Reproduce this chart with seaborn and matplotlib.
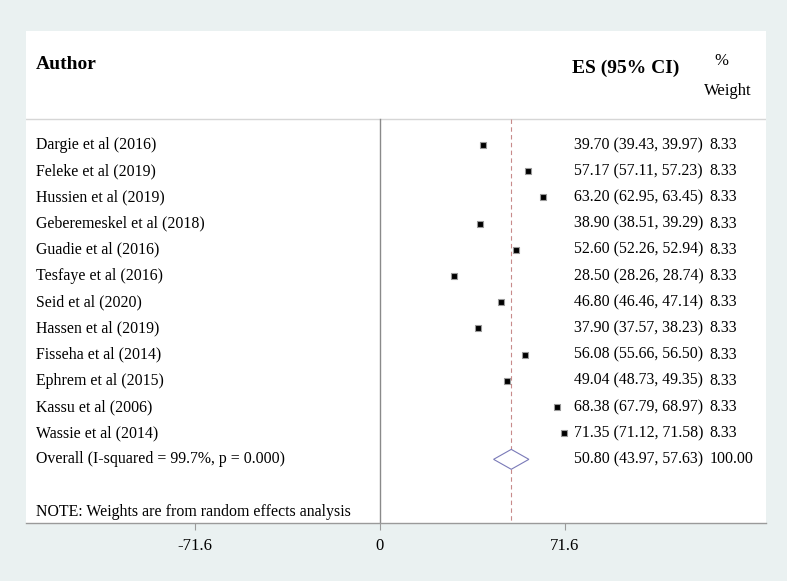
import numpy as np
import pandas as pd
import matplotlib.pyplot as plt
import seaborn as sns

# --- dane ---
authors = ["Dargie et al (2016)", "Feleke et al (2019)", "Hussien et al (2019)",
           "Geberemeskel et al (2018)", "Guadie et al (2016)", "Tesfaye et al (2016)",
           "Seid et al (2020)", "Hassen et al (2019)", "Fisseha et al (2014)",
           "Ephrem et al (2015)", "Kassu et al (2006)", "Wassie et al (2014)"]
es = [39.70, 57.17, 63.20, 38.90, 52.60, 28.50, 46.80, 37.90, 56.08, 49.04, 68.38, 71.35]
lo = [39.43, 57.11, 62.95, 38.51, 52.26, 28.26, 46.46, 37.57, 55.66, 48.73, 67.79, 71.12]
hi = [39.97, 57.23, 63.45, 39.29, 52.94, 28.74, 47.14, 38.23, 56.50, 49.35, 68.97, 71.58]
weights = [8.33] * 12
overall_label = "Overall (I-squared = 99.7%, p = 0.000)"
overall_es, overall_lo, overall_hi, overall_w = 50.80, 43.97, 57.63, 100.00
note = "NOTE: Weights are from random effects analysis"
xticks = [-71.6, 0, 71.6]

df = pd.DataFrame({"author": authors, "es": es, "lo": lo, "hi": hi, "w": weights})
df["row"] = np.arange(len(df))

bg = "#EAF1F1"
plt.rcParams["font.family"] = ["Liberation Serif", "DejaVu Serif"]

fig = plt.figure(figsize=(7.87, 5.81), dpi=100, facecolor=bg)
ax = fig.add_axes([26 / 787, 58 / 581, 740 / 787, 492 / 581])
ax.set_facecolor("white")

x_left, x_right = -137.0, 149.4
y_bottom, y_top = 14.43, -4.35
ax.set_xlim(x_left, x_right)
ax.set_ylim(y_bottom, y_top)

# linie pomocnicze
ax.plot([x_left, x_right], [-1, -1], color="#d6d6d6", lw=1.0, zorder=1)
ax.plot([0, 0], [-1, y_bottom], color="#8a8a8a", lw=1.0, zorder=1)
ax.plot([overall_es, overall_es], [-1, y_bottom], color="#c88a8a", lw=0.8,
        ls=(0, (4, 3)), zorder=1)

# przedziały ufności + punkty
ax.hlines(df["row"], df["lo"], df["hi"], color="black", lw=0.8, zorder=2)
sns.scatterplot(data=df, x="es", y="row", ax=ax, marker="s", s=14, color="black",
                edgecolor="#9a9a9a", linewidth=0.8, zorder=3, legend=False)

# romb dla wyniku łącznego
orow = len(df)
ax.fill([overall_lo, overall_es, overall_hi, overall_es, overall_lo],
        [orow, orow - 0.38, orow, orow + 0.38, orow],
        facecolor="white", edgecolor="#7a7ab8", lw=0.8, zorder=3)

fs = 11.4
x_auth, x_es, x_w = -133.1, 74.9, 127.6
for i, r in df.iterrows():
    ax.text(x_auth, r["row"], r["author"], fontsize=fs, va="center", ha="left")
    ax.text(x_es, r["row"], f"{r['es']:.2f} ({r['lo']:.2f}, {r['hi']:.2f})",
            fontsize=fs, va="center", ha="left")
    ax.text(x_w, r["row"], f"{r['w']:.2f}", fontsize=fs, va="center", ha="left")
ax.text(x_auth, orow, overall_label, fontsize=fs, va="center", ha="left")
ax.text(x_es, orow, f"{overall_es:.2f} ({overall_lo:.2f}, {overall_hi:.2f})",
        fontsize=fs, va="center", ha="left")
ax.text(x_w, orow, f"{overall_w:.2f}", fontsize=fs, va="center", ha="left")
ax.text(x_auth, 14.0, note, fontsize=fs, va="center", ha="left")

# nagłówki
ax.text(x_auth, -3.08, "Author", fontsize=14, fontweight="bold", va="center", ha="left")
ax.text(74.5, -2.93, "ES (95% CI)", fontsize=14, fontweight="bold", va="center", ha="left")
ax.text(129.3, -3.2, "%", fontsize=12, va="center", ha="left")
ax.text(125.5, -2.05, "Weight", fontsize=12, va="center", ha="left")

# osie
for name, spine in ax.spines.items():
    spine.set_visible(name == "bottom")
ax.spines["bottom"].set_color("#9a9a9a")
ax.spines["bottom"].set_linewidth(1.0)
ax.set_yticks([])
ax.set_xticks(xticks)
ax.set_xticklabels([f"{t:g}" for t in xticks], fontsize=12)
ax.tick_params(axis="x", length=5, width=0.8, color="#9a9a9a", pad=6)
ax.set_xlabel("")
ax.set_ylabel("")

plt.savefig("out.png", dpi=100, facecolor=bg)
